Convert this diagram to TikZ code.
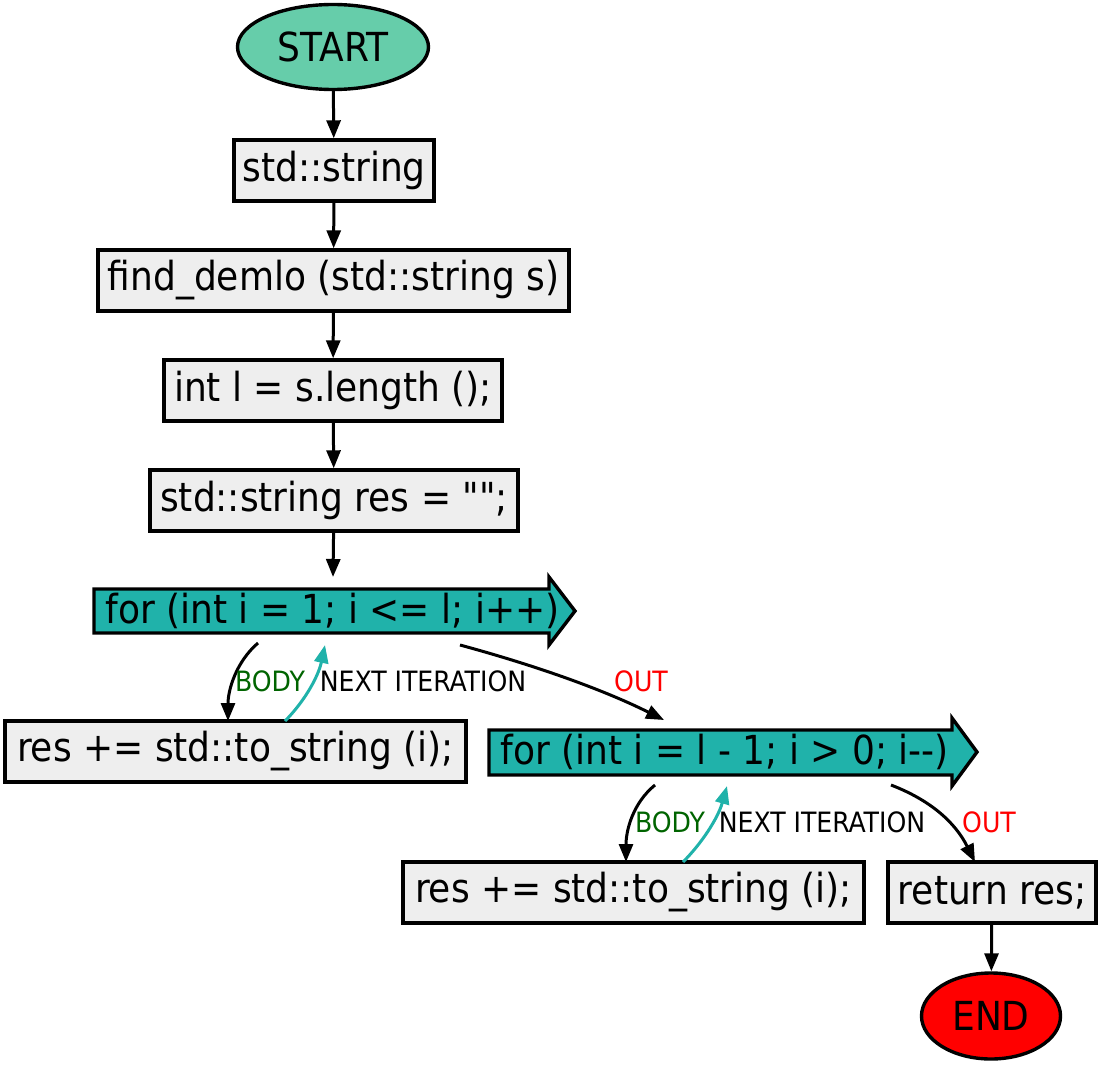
\documentclass[tikz,border=0pt]{standalone}
\usepackage{fontspec}
\setmainfont{DejaVu Sans Condensed}[Ligatures=TeXOff]
\usetikzlibrary{arrows.meta,shapes.geometric,calc}
\definecolor{boxfill}{HTML}{EEEEEE}
\definecolor{startfill}{HTML}{66CDAA}
\definecolor{loopfill}{HTML}{20B2AA}
\definecolor{bodygreen}{HTML}{006400}
\begin{document}
\begin{tikzpicture}[x=1pt,y=-1pt,
  line width=3.4pt,
  >={Triangle[length=18pt,width=14pt]},
  txt/.style={font=\fontsize{40}{44}\selectfont, inner sep=0pt},
  box/.style={txt, draw=black, fill=boxfill, rectangle},
  term/.style={txt, draw=black, ellipse},
  lbl/.style={font=\fontsize{28}{30}\selectfont, inner sep=0pt},
  edge/.style={->, draw=black, line width=3pt},
  back/.style={->, draw=loopfill, line width=3pt}
]
\useasboundingbox (0,0) rectangle (1101,1065);
% terminals
\node[term, fill=startfill, minimum width=191pt, minimum height=85pt] (start) at (333,47) {START};
\node[term, fill=red, minimum width=139pt, minimum height=86pt] (end) at (991,1016) {END};
% boxes
\node[box, minimum width=200pt, minimum height=61pt] (decl) at (334,170.5) {std::string};
\node[box, minimum width=471pt, minimum height=61pt] (func) at (333.5,280.5) {find\_demlo (std::string s)};
\node[box, minimum width=338pt, minimum height=61pt] (len) at (333,390.5) {int l = s.length ();};
\node[box, minimum width=368pt, minimum height=61pt] (res) at (334,500.5) {std::string res = "";};
\node[box, minimum width=461pt, minimum height=61pt] (add1) at (235.5,751.5) {res += std::to\_string (i);};
\node[box, minimum width=461pt, minimum height=61pt] (add2) at (633.5,892.5) {res += std::to\_string (i);};
\node[box, minimum width=208pt, minimum height=61pt] (ret) at (992,892.5) {return res;};
% loop shapes
\draw[fill=loopfill] (94,589) -- (549,589) -- (549,577) -- (575,611) -- (549,645) -- (549,633) -- (94,633) -- cycle;
\node[txt, anchor=west] (for1) at (104,611) {for (int i = 1; i <= l; i++)};
\draw[fill=loopfill] (489,730) -- (952,730) -- (952,718) -- (977,752) -- (952,786) -- (952,775) -- (489,775) -- cycle;
\node[txt, anchor=west] (for2) at (499,752) {for (int i = l - 1; i > 0; i--)};
% connector points
\coordinate (f1in) at (333,577);
\coordinate (f1b) at (258,643);
\coordinate (f1n) at (325,645);
\coordinate (f1o) at (460,645);
\coordinate (f2in) at (664,720);
\coordinate (f2b) at (655,785);
\coordinate (f2n) at (727,786);
\coordinate (f2o) at (891,785);
\coordinate (a1b) at (228,721);
\coordinate (a1n) at (285,721);
\coordinate (a2b) at (626,862);
\coordinate (a2n) at (683,862);
\coordinate (rt) at (975,862);
% straight edges
\draw[edge] (start) -- (decl);
\draw[edge] (decl) -- (func);
\draw[edge] (func) -- (len);
\draw[edge] (len) -- (res);
\draw[edge] (res) -- (f1in);
\draw[edge] (ret) -- (end);
% loop 1
\draw[edge] (f1b) .. controls (236,662) and (228,690) .. (a1b);
\draw[back] (a1n) .. controls (303,703) and (318,678) .. (f1n);
\draw[edge] (f1o) .. controls (530,664) and (600,688) .. (f2in);
\node[lbl, text=bodygreen] (b1) at (270,681) {BODY};
\node[lbl] (n1) at (423,681) {NEXT ITERATION};
\node[lbl, text=red] (o1) at (641,681) {OUT};
% loop 2
\draw[edge] (f2b) .. controls (633,803) and (626,830) .. (a2b);
\draw[back] (a2n) .. controls (702,843) and (718,818) .. (f2n);
\draw[edge] (f2o) .. controls (930,800) and (955,822) .. (rt);
\node[lbl, text=bodygreen] (b2) at (670,822) {BODY};
\node[lbl] (n2) at (822,822) {NEXT ITERATION};
\node[lbl, text=red] (o2) at (989,822) {OUT};
\end{tikzpicture}
\end{document}
